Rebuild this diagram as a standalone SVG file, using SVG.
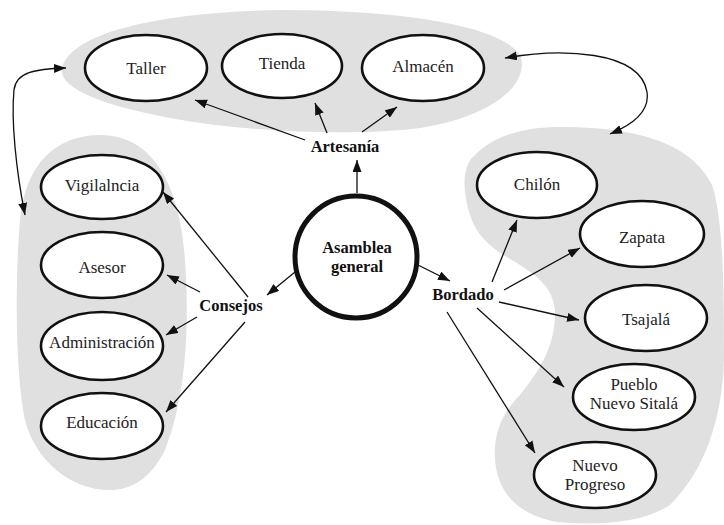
<svg xmlns="http://www.w3.org/2000/svg" width="724" height="525" viewBox="0 0 724 525">
<style>
.blob{fill:#e0e0e0;stroke:none}
.node{fill:#fff;stroke:#111;stroke-width:2.6}
text{font-family:'Liberation Serif','Times New Roman','DejaVu Serif',serif}
.t{font-size:17px;fill:#222;text-anchor:middle}
.b{font-size:16.5px;font-weight:bold;fill:#111;text-anchor:middle}
.c{fill:none;stroke:#111;stroke-width:1.3}
</style>
<defs>
<marker id="ah" markerUnits="userSpaceOnUse" markerWidth="13" markerHeight="10" refX="12" refY="4.5" orient="auto-start-reverse">
<path d="M0,0 L12,4.5 L0,9 Z" fill="#111"/>
</marker>
</defs>
<g id="groups">
<path class="blob" d="M62 68 C70 35 150 12 280 10 C400 10 500 25 520 55 C530 80 500 115 420 128 C360 136 250 133 170 118 C100 105 58 88 62 68 Z"/>
<path class="blob" d="M100 135 C150 135 180 180 185 260 C190 330 185 400 165 450 C150 480 130 490 110 490 C70 490 35 460 25 420 C15 370 15 280 20 220 C25 165 55 135 100 135 Z"/>
<path class="blob" d="M560 127 C630 127 690 140 712 185 C724 220 724 300 724 360 C722 420 705 470 670 505 C640 525 590 525 557 522 C520 515 498 495 495 460 C493 430 505 410 520 395 C540 370 556 345 555 310 C552 285 535 275 517 263 C495 250 478 240 470 215 C462 190 462 165 475 155 C495 135 525 127 560 127 Z"/>
</g>
<g id="connectors">
<line class="c" x1="357" y1="193" x2="357" y2="160" marker-end="url(#ah)"/>
<line class="c" x1="305" y1="140" x2="195" y2="100" marker-end="url(#ah)"/>
<line class="c" x1="327" y1="133" x2="315" y2="103" marker-end="url(#ah)"/>
<line class="c" x1="362" y1="132" x2="397" y2="107" marker-end="url(#ah)"/>
<line class="c" x1="295" y1="272" x2="267" y2="295" marker-end="url(#ah)"/>
<line class="c" x1="248" y1="297" x2="163" y2="192" marker-end="url(#ah)"/>
<line class="c" x1="200" y1="292" x2="167" y2="275" marker-end="url(#ah)"/>
<line class="c" x1="197" y1="317" x2="166" y2="335" marker-end="url(#ah)"/>
<line class="c" x1="245" y1="322" x2="166" y2="412" marker-end="url(#ah)"/>
<line class="c" x1="418" y1="265" x2="450" y2="281" marker-end="url(#ah)"/>
<line class="c" x1="492" y1="282" x2="517" y2="220" marker-end="url(#ah)"/>
<line class="c" x1="504" y1="290" x2="580" y2="248" marker-end="url(#ah)"/>
<line class="c" x1="499" y1="302" x2="579" y2="320" marker-end="url(#ah)"/>
<line class="c" x1="477" y1="308" x2="564" y2="387" marker-end="url(#ah)"/>
<line class="c" x1="447" y1="312" x2="535" y2="453" marker-end="url(#ah)"/>
<path class="c" d="M25 215 C16 170 11 120 14 90 C16 72 35 69 66 68" marker-start="url(#ah)" marker-end="url(#ah)"/>
<path class="c" d="M505 58 C560 48 640 50 647 92 C650 112 632 125 610 134" marker-start="url(#ah)" marker-end="url(#ah)"/>
</g>
<g id="asamblea">
<circle cx="356" cy="257" r="61" fill="#fff" stroke="#111" stroke-width="5"/>
<text class="b" x="357" y="253">Asamblea</text>
<text class="b" x="357" y="272">general</text>
</g>
<g id="artesania"><text class="b" x="345" y="152">Artesanía</text></g>
<g id="consejos"><text class="b" x="231" y="311">Consejos</text></g>
<g id="bordado"><text class="b" x="463" y="300">Bordado</text></g>
<g id="taller"><ellipse class="node" cx="146" cy="68" rx="61" ry="33"/><text class="t" x="146" y="74">Taller</text></g>
<g id="tienda"><ellipse class="node" cx="282" cy="66" rx="60" ry="32"/><text class="t" x="282" y="69">Tienda</text></g>
<g id="almacen"><ellipse class="node" cx="423" cy="68" rx="61" ry="33"/><text class="t" x="423" y="72">Almacén</text></g>
<g id="vigilancia"><ellipse class="node" cx="102" cy="187" rx="61" ry="32"/><text class="t" x="102" y="191">Vigilalncia</text></g>
<g id="asesor"><ellipse class="node" cx="102" cy="265" rx="61" ry="33"/><text class="t" x="102" y="273">Asesor</text></g>
<g id="administracion"><ellipse class="node" cx="102" cy="346" rx="61" ry="34"/><text class="t" x="102" y="348">Administración</text></g>
<g id="educacion"><ellipse class="node" cx="102" cy="426" rx="61" ry="33"/><text class="t" x="102" y="428">Educación</text></g>
<g id="chilon"><ellipse class="node" cx="537" cy="185" rx="60" ry="33"/><text class="t" x="537" y="190">Chilón</text></g>
<g id="zapata"><ellipse class="node" cx="642" cy="234" rx="62" ry="33"/><text class="t" x="642" y="243">Zapata</text></g>
<g id="tsajala"><ellipse class="node" cx="646" cy="318" rx="61" ry="33"/><text class="t" x="646" y="325">Tsajalá</text></g>
<g id="pueblo"><ellipse class="node" cx="634" cy="397" rx="61" ry="33"/><text class="t" x="634" y="390">Pueblo</text><text class="t" x="634" y="409">Nuevo Sitalá</text></g>
<g id="nuevoprogreso"><ellipse class="node" cx="595" cy="475" rx="61" ry="33"/><text class="t" x="595" y="471">Nuevo</text><text class="t" x="595" y="490">Progreso</text></g>
</svg>
